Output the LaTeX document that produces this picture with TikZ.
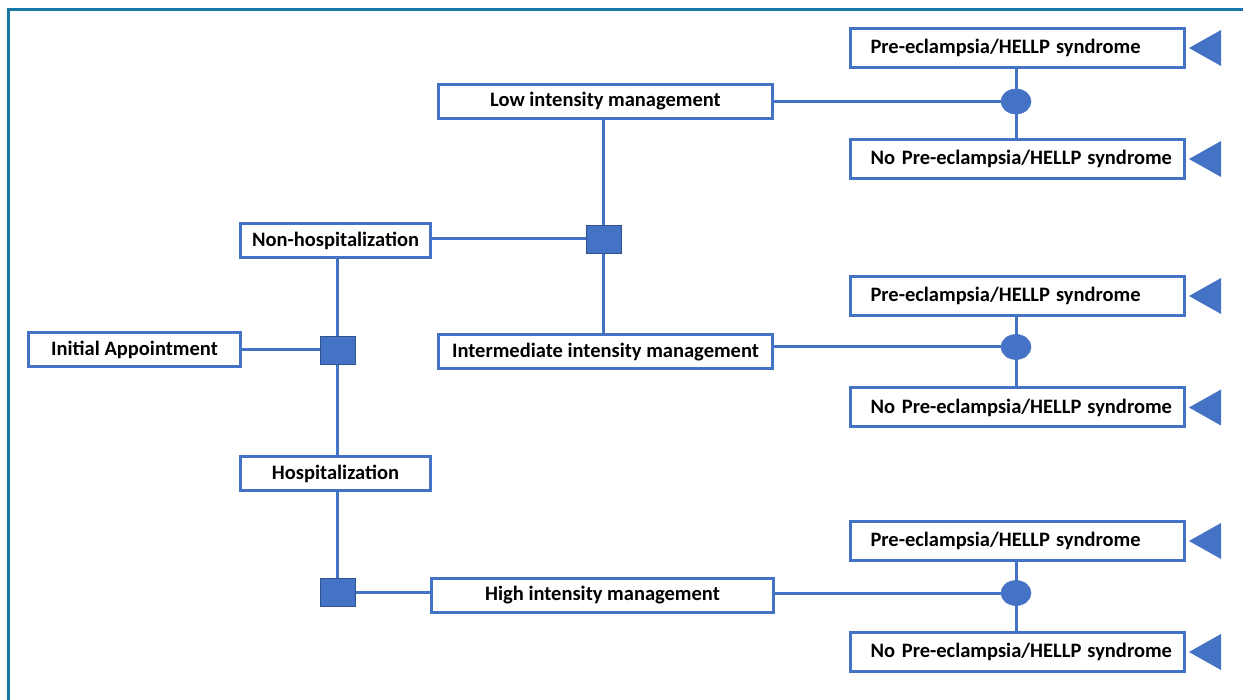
\documentclass[tikz,border=0pt]{standalone}
\usepackage{fontspec}
\setmainfont{Carlito}
\usetikzlibrary{shapes.geometric,backgrounds}
\definecolor{boxblue}{HTML}{4472C4}
\definecolor{darkblue}{HTML}{2F528F}
\definecolor{framecol}{HTML}{1677A6}
\tikzset{
  stagebox/.style={draw=boxblue, line width=3pt, fill=white, inner sep=0pt,
    minimum height=34pt, font=\fontsize{20.5}{24}\selectfont\bfseries},
  outbox/.style={stagebox, minimum height=39pt, text width=294pt,
    align=left, inner xsep=20pt},
  decision/.style={rectangle, fill=boxblue, draw=darkblue, line width=0.6pt,
    minimum width=35pt, minimum height=28pt, inner sep=0pt},
  chance/.style={ellipse, fill=boxblue, draw=boxblue, line width=0.6pt,
    minimum width=30pt, minimum height=25pt, inner sep=0pt},
  link/.style={draw=boxblue, line width=3pt}
}
\newcommand{\pe}{Pre-eclampsia/HELLP\hspace{6pt}syndrome}
\begin{document}
\begin{tikzpicture}[x=1pt,y=-1pt]
\useasboundingbox (0,0) rectangle (1243,700);
% frame
\draw[framecol, line width=3pt] (1243,10) -- (8,10) -- (8,700);

% decision tree
\node[stagebox, minimum width=212pt] (init) at (134.5,350) {Initial Appointment};
\node[decision] (dec1) at (337.5,350) {};
\node[stagebox, minimum width=190pt] (nonhosp) at (335.5,241) {Non-hospitalization};
\node[stagebox, minimum width=190pt] (hosp) at (335.5,474) {Hospitalization};
\node[decision] (dec2) at (603.5,239) {};
\node[decision] (dec3) at (337.5,592) {};
\node[stagebox, minimum width=334pt] (low) at (605.5,101.5) {Low intensity management};
\node[stagebox, minimum width=334pt] (inter) at (605.5,352) {Intermediate intensity management};
\node[stagebox, minimum width=342pt] (high) at (602.5,595) {High intensity management};

\node[chance] (ch1) at (1016,101.5) {};
\node[chance] (ch2) at (1016,347) {};
\node[chance] (ch3) at (1016,593) {};

\node[outbox] (pe1) at (1017.5,48) {\mbox{\pe}};
\node[outbox] (nope1) at (1017.5,159) {\mbox{No \pe}};
\node[outbox] (pe2) at (1017.5,296) {\mbox{\pe}};
\node[outbox] (nope2) at (1017.5,407.5) {\mbox{No \pe}};
\node[outbox] (pe3) at (1017.5,541) {\mbox{\pe}};
\node[outbox] (nope3) at (1017.5,652) {\mbox{No \pe}};

% connectors
\begin{scope}[on background layer]
\path[link] (init) -- (dec1);
\path[link] (dec1) -- (dec1 |- nonhosp.south);
\path[link] (dec1) -- (dec1 |- hosp.north);
\path[link] (dec3) -- (dec3 |- hosp.south);
\path[link] (dec3) -- (high.west |- dec3);
\path[link] (nonhosp.east |- dec2) -- (dec2);
\path[link] (dec2) -- (dec2 |- low.south);
\path[link] (dec2) -- (dec2 |- inter.north);
\path[link] (low.east |- ch1) -- (ch1);
\path[link] (inter.east |- ch2) -- (ch2);
\path[link] (high.east |- ch3) -- (ch3);
\foreach \up/\down/\c in {pe1/nope1/ch1, pe2/nope2/ch2, pe3/nope3/ch3}
  \path[link] (\c |- \up.south) -- (\c |- \down.north);
\end{scope}

% terminal triangles
\foreach \t in {pe1,nope1,pe2,nope2,pe3,nope3}{
  \fill[boxblue] ([xshift=3pt]\t.east) -- ++(32,-18) -- ++(0,36) -- cycle;
}
\end{tikzpicture}
\end{document}
